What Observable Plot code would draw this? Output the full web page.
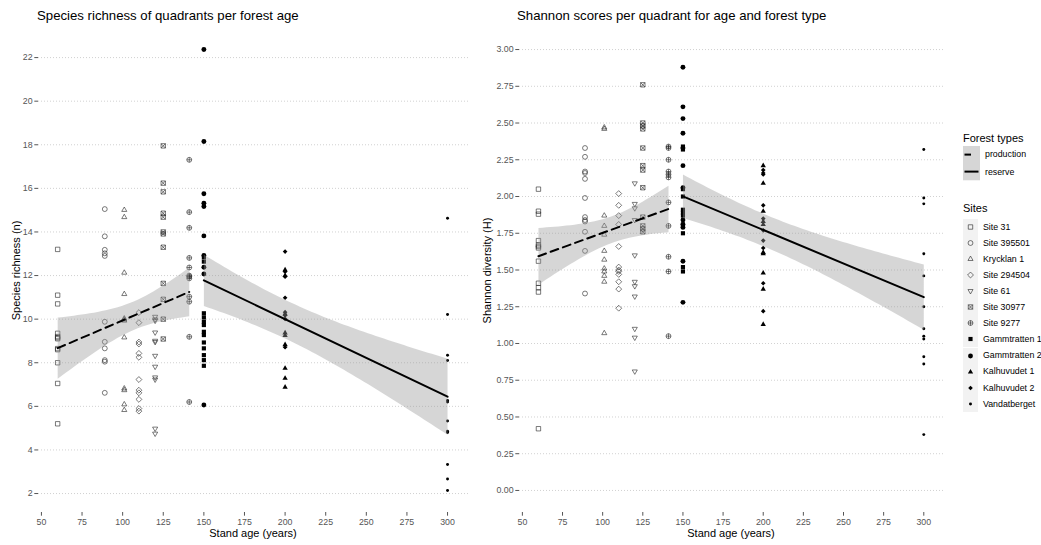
<!DOCTYPE html>
<html><head><meta charset="utf-8">
<script src="https://cdn.jsdelivr.net/npm/d3@7"></script>
<script src="https://cdn.jsdelivr.net/npm/@observablehq/plot@0.6"></script>
<style>
body{margin:0;background:#fff;font-family:"Liberation Sans",Arial,sans-serif;}
#wrap{position:relative;width:1041px;height:545px;overflow:hidden;background:#fff}
.abs{position:absolute;white-space:nowrap;line-height:1}
.ttl{font-size:13.2px;color:#000}
.axt{font-size:11px;color:#000;text-align:center}
.lgt{font-size:11px;color:#000}
.lgl{font-size:8.8px;color:#000}
</style></head>
<body><div id="wrap"></div>
<script>
// ---------- data ----------
const sites = ["Site 31","Site 395501","Krycklan 1","Site 294504","Site 61","Site 30977","Site 9277","Gammtratten 1","Gammtratten 2","Kalhuvudet 1","Kalhuvudet 2","Vandatberget"];
const siteAge = [60, 89, 101, 110, 120, 125, 141, 150, 150, 200, 200, 300];
const siteForest = ["production","production","production","production","production","production","production","reserve","reserve","reserve","reserve","reserve"];

// Species richness (n) per quadrant, per site
const richSite31 = [13.2, 11.1, 10.7, 9.35, 9.2, 9.15, 9.1, 8.65, 8.6, 8.0, 7.05, 5.2];
const rich395501 = [15.05, 13.8, 13.18, 13.02, 12.9, 9.88, 8.96, 8.66, 8.12, 8.05, 6.62];
const richKrycklan1 = [15.01, 14.68, 12.13, 11.15, 10.03, 9.98, 9.93, 9.16, 6.82, 6.74, 6.09, 5.83];
const rich294504 = [10.3, 9.84, 8.95, 8.86, 8.43, 8.25, 7.23, 6.74, 6.62, 6.32, 5.9, 5.78];
const rich61 = [10.11, 9.99, 9.93, 9.39, 9.01, 8.95, 8.32, 7.82, 7.33, 7.23, 4.98, 4.75];
const rich30977 = [17.95, 16.24, 15.84, 14.86, 14.68, 14.0, 13.91, 13.3, 11.64, 10.91, 10.0, 9.09];
const rich9277 = [17.31, 14.91, 14.19, 12.81, 12.37, 12.0, 11.95, 11.87, 11.03, 10.8, 9.19, 6.2];
const richGamm1 = [12.84, 12.64, 10.27, 10.08, 9.88, 9.73, 9.42, 9.27, 8.93, 8.66, 8.35, 8.12, 7.86];
const richGamm2 = [22.37, 18.15, 15.75, 15.32, 15.17, 13.82, 12.92, 12.38, 12.07, 6.06];
const richKalh1 = [12.26, 12.0, 10.24, 9.37, 9.25, 8.83, 7.75, 7.29, 6.88];
const richKalh2 = [13.1, 12.18, 11.95, 10.98, 10.32, 10.17, 10.01, 8.71];
const richVand = [14.63, 10.21, 8.34, 8.1, 6.27, 6.2, 5.33, 4.86, 4.8, 3.33, 2.67, 2.14];

// Shannon diversity (H) per quadrant, per site
const shanSite31 = [2.05, 1.90, 1.88, 1.70, 1.67, 1.66, 1.65, 1.56, 1.41, 1.38, 1.35, 0.42];
const shan395501 = [2.33, 2.27, 2.17, 2.16, 2.12, 1.99, 1.86, 1.84, 1.83, 1.76, 1.63, 1.34];
const shanKrycklan1 = [2.47, 2.46, 1.87, 1.80, 1.74, 1.63, 1.57, 1.51, 1.49, 1.46, 1.42, 1.07];
const shan294504 = [2.02, 1.94, 1.87, 1.81, 1.66, 1.52, 1.50, 1.49, 1.47, 1.42, 1.37, 1.24];
const shan61 = [2.09, 1.95, 1.92, 1.84, 1.60, 1.42, 1.39, 1.32, 1.10, 1.04, 0.81];
const shan30977 = [2.76, 2.50, 2.48, 2.46, 2.33, 2.21, 2.18, 2.06, 1.86, 1.80, 1.78, 1.76];
const shan9277 = [2.34, 2.33, 2.25, 2.17, 2.15, 2.13, 1.96, 1.80, 1.59, 1.49, 1.05];
const shanGamm1 = [2.34, 2.32, 2.05, 2.00, 1.91, 1.89, 1.87, 1.81, 1.75, 1.52, 1.49];
const shanGamm2 = [2.88, 2.61, 2.53, 2.43, 2.33, 2.21, 2.06, 1.84, 1.81, 1.79, 1.56, 1.28];
const shanKalh1 = [2.21, 2.09, 1.90, 1.83, 1.81, 1.62, 1.61, 1.48, 1.37, 1.13];
const shanKalh2 = [2.18, 2.16, 2.15, 1.94, 1.85, 1.77, 1.70, 1.65, 1.41, 1.22];
const shanVand = [2.32, 1.99, 1.95, 1.61, 1.46, 1.25, 1.10, 1.05, 1.03, 0.91, 0.86, 0.38];

const richBySite = [richSite31, rich395501, richKrycklan1, rich294504, rich61, rich30977, rich9277, richGamm1, richGamm2, richKalh1, richKalh2, richVand];
const shanBySite = [shanSite31, shan395501, shanKrycklan1, shan294504, shan61, shan30977, shan9277, shanGamm1, shanGamm2, shanKalh1, shanKalh2, shanVand];

const xTicks = [50, 75, 100, 125, 150, 175, 200, 225, 250, 275, 300];
const richTicks = [2, 4, 6, 8, 10, 12, 14, 16, 18, 20, 22];
const shanTicks = [0, 0.25, 0.5, 0.75, 1, 1.25, 1.5, 1.75, 2, 2.25, 2.5, 2.75, 3];
const forestTypes = ["production", "reserve"];

// ---------- symbols (ggplot shapes 0,1,2,5,6,7,10,15,16,17,18,20) ----------
function rad(size){ return Math.sqrt(size / Math.PI); }
const sym = {
  sq: {draw(c, s){ const h = rad(s)*0.9; c.moveTo(-h,-h); c.lineTo(h,-h); c.lineTo(h,h); c.lineTo(-h,h); c.closePath(); }},
  circ: {draw(c, s){ const r = rad(s); c.moveTo(r,0); c.arc(0,0,r,0,2*Math.PI); }},
  triUp: {draw(c, s){ const r = rad(s)*1.2; c.moveTo(0,-r); c.lineTo(r*0.866,r*0.5); c.lineTo(-r*0.866,r*0.5); c.closePath(); }},
  diam: {draw(c, s){ const r = rad(s)*1.2; c.moveTo(0,-r); c.lineTo(r,0); c.lineTo(0,r); c.lineTo(-r,0); c.closePath(); }},
  triDown: {draw(c, s){ const r = rad(s)*1.2; c.moveTo(0,r); c.lineTo(r*0.866,-r*0.5); c.lineTo(-r*0.866,-r*0.5); c.closePath(); }},
  sqX: {draw(c, s){ const h = rad(s)*0.9; c.moveTo(-h,-h); c.lineTo(h,-h); c.lineTo(h,h); c.lineTo(-h,h); c.closePath(); c.moveTo(-h,-h); c.lineTo(h,h); c.moveTo(h,-h); c.lineTo(-h,h); }},
  circPlus: {draw(c, s){ const r = rad(s); c.moveTo(r,0); c.arc(0,0,r,0,2*Math.PI); c.moveTo(-r,0); c.lineTo(r,0); c.moveTo(0,-r); c.lineTo(0,r); }},
  fsq: {draw(c, s){ const h = rad(s)*0.85; c.moveTo(-h,-h); c.lineTo(h,-h); c.lineTo(h,h); c.lineTo(-h,h); c.closePath(); }},
  fcirc: {draw(c, s){ const r = rad(s); c.moveTo(r,0); c.arc(0,0,r,0,2*Math.PI); }},
  ftri: {draw(c, s){ const r = rad(s)*1.25; c.moveTo(0,-r); c.lineTo(r*0.866,r*0.5); c.lineTo(-r*0.866,r*0.5); c.closePath(); }},
  fdiam: {draw(c, s){ const r = rad(s)*0.95; c.moveTo(0,-r); c.lineTo(r,0); c.lineTo(0,r); c.lineTo(-r,0); c.closePath(); }},
  fdot: {draw(c, s){ const r = rad(s)*0.6; c.moveTo(r,0); c.arc(0,0,r,0,2*Math.PI); }}
};
const siteSym = [sym.sq, sym.circ, sym.triUp, sym.diam, sym.triDown, sym.sqX, sym.circPlus, sym.fsq, sym.fcirc, sym.ftri, sym.fdiam, sym.fdot];
const siteFilled = [false,false,false,false,false,false,false,true,true,true,true,true];
const R = 2.45;

// ---------- build tables ----------
function table(bySite){
  const rows = [];
  bySite.forEach((vals, i) => vals.forEach(v => rows.push({site: sites[i], age: siteAge[i], forest: siteForest[i], value: v, si: i})));
  return rows;
}
const richRows = table(richBySite);
const shanRows = table(shanBySite);

const xDomain = [48.2, 312.9];
const FONT = '"Liberation Sans", Arial, sans-serif';

function panel(rows, yDomain, yTicks, yFmt, width, marginLeft, marginRight){
  const marks = [
    Plot.gridY(yTicks, {stroke: "#bdbdbd", strokeOpacity: 1, strokeWidth: 0.7, strokeDasharray: "1 2"}),
    Plot.axisY(yTicks, {tickSize: 3.7, tickPadding: 2.2, tickFormat: yFmt, fontSize: 8.8, color: "#555", label: null}),
    Plot.axisX(xTicks, {tickSize: 3.7, tickPadding: 2.2, fontSize: 8.8, color: "#555", label: null})
  ];
  sites.forEach((s, i) => {
    const d = rows.filter(r => r.si === i);
    marks.push(Plot.dot(d, {
      x: "age", y: "value", symbol: siteSym[i], r: R,
      fill: siteFilled[i] ? "#000" : "none",
      stroke: siteFilled[i] ? "none" : "#222",
      strokeWidth: 0.6
    }));
  });
  marks.push(Plot.linearRegressionY(rows.filter(r => r.forest === "production"), {
    x: "age", y: "value", ci: 0.95, stroke: "#000", strokeWidth: 2, strokeDasharray: "8 5",
    fill: "#999", fillOpacity: 0.4
  }));
  marks.push(Plot.linearRegressionY(rows.filter(r => r.forest === "reserve"), {
    x: "age", y: "value", ci: 0.95, stroke: "#000", strokeWidth: 2,
    fill: "#999", fillOpacity: 0.4
  }));
  return Plot.plot({
    width, height: 545, marginLeft, marginRight, marginTop: 27, marginBottom: 33,
    x: {domain: xDomain},
    y: {domain: yDomain},
    style: {fontFamily: FONT, fontSize: "8.8px", background: "transparent", overflow: "visible"},
    marks
  });
}

const wrap = document.getElementById("wrap");
function place(el, left, top){ el.style.position = "absolute"; el.style.left = left + "px"; el.style.top = top + "px"; wrap.appendChild(el); return el; }

const leftPlot = panel(richRows, [1.13, 23.38], richTicks, d3.format("d"), 480, 38, 12);
place(leftPlot, 0, 0);
const rightPlot = panel(shanRows, [-0.15, 3.15], shanTicks, d3.format(".2f"), 470, 39, 6);
place(rightPlot, 480, 0);

function text(cls, str, left, top, extra){
  const d = document.createElement("div");
  d.className = "abs " + cls; d.textContent = str;
  d.style.left = left + "px"; d.style.top = top + "px";
  if (extra) Object.assign(d.style, extra);
  wrap.appendChild(d); return d;
}
// titles
text("ttl", "Species richness of quadrants per forest age", 37, 9);
text("ttl", "Shannon scores per quadrant for age and forest type", 517, 9);
// axis titles
text("axt", "Stand age (years)", 253 - 100, 528, {width: "200px"});
text("axt", "Stand age (years)", 731 - 100, 528, {width: "200px"});
text("axt", "Species richness (n)", 16 - 100, 270 - 5.5, {width: "200px", transform: "rotate(-90deg)", transformOrigin: "50% 50%"});
text("axt", "Shannon diversity (H)", 487 - 100, 270 - 5.5, {width: "200px", transform: "rotate(-90deg)", transformOrigin: "50% 50%"});

// ---------- legend ----------
const ns = "http://www.w3.org/2000/svg";
function keySvg(w, h){ const s = document.createElementNS(ns, "svg"); s.setAttribute("width", w); s.setAttribute("height", h); return s; }
text("lgt", "Forest types", 963, 133);
forestTypes.forEach((f, i) => {
  const top = 146 + i * 17.3;
  const s = keySvg(17, 17.3);
  const rect = document.createElementNS(ns, "rect");
  rect.setAttribute("width", 17); rect.setAttribute("height", 17.3); rect.setAttribute("fill", "#d6d6d6");
  s.appendChild(rect);
  const ln = document.createElementNS(ns, "line");
  ln.setAttribute("x1", 1.5); ln.setAttribute("x2", i === 0 ? 8 : 15.5);
  ln.setAttribute("y1", 8.6); ln.setAttribute("y2", 8.6);
  ln.setAttribute("stroke", "#000"); ln.setAttribute("stroke-width", 2);
  s.appendChild(ln);
  place(s, 963, top);
  text("lgl", f, 985, top + 4.3);
});
text("lgt", "Sites", 963, 203);
sites.forEach((site, i) => {
  const top = 218.7 + i * 16.1;
  const s = keySvg(15, 16.1);
  const rect = document.createElementNS(ns, "rect");
  rect.setAttribute("width", 15); rect.setAttribute("height", 16.1); rect.setAttribute("fill", "#f2f2f2");
  s.appendChild(rect);
  const p = document.createElementNS(ns, "path");
  p.setAttribute("d", d3.symbol(siteSym[i], Math.PI * R * R)());
  p.setAttribute("transform", "translate(7.5,8)");
  p.setAttribute("fill", siteFilled[i] ? "#000" : "none");
  p.setAttribute("stroke", siteFilled[i] ? "none" : "#222");
  p.setAttribute("stroke-width", 0.6);
  s.appendChild(p);
  place(s, 963, top);
  text("lgl", site, 983, top + 3.8);
});
</script>
</body></html>
